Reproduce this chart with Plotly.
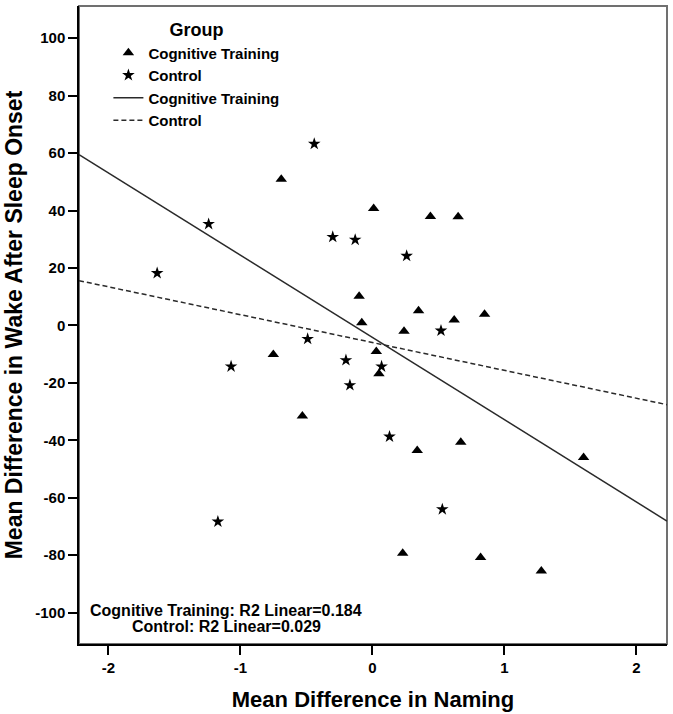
import numpy as np
import plotly.graph_objects as go

# ---- data ----
ct_x = [-0.69, 0.01, 0.44, 0.65, -0.10, -0.08, 0.35, 0.62, 0.85, 0.24,
        0.03, 0.05, -0.75, -0.53, 0.34, 0.67, 1.60, 0.23, 0.82, 1.28]
ct_y = [50.9, 40.7, 37.9, 37.8, 10.2, 0.9, 5.1, 1.9, 3.9, -2.0,
        -9.1, -16.8, -10.1, -31.5, -43.5, -40.7, -46.0, -79.3, -80.8, -85.5]

ctrl_x = [-0.44, -1.24, -0.30, -0.13, 0.26, -1.63, 0.52, -0.49, -0.20, 0.07,
          -1.07, -0.17, 0.13, 0.53, -1.17]
ctrl_y = [63.2, 35.3, 30.8, 29.8, 24.2, 18.2, -1.8, -4.7, -12.1, -14.3,
          -14.3, -20.8, -38.7, -64.0, -68.3]

group_names = ["Cognitive Training", "Control"]
r2_labels = ["Cognitive Training: R2 Linear=0.184", "Control: R2 Linear=0.029"]

x_ticks = [-2, -1, 0, 1, 2]
y_ticks = [-100, -80, -60, -40, -20, 0, 20, 40, 60, 80, 100]
x_range = [-2.222, 2.232]
y_range = [-110.9, 111.2]

FONT = "Liberation Sans, Arial, Helvetica, sans-serif"

# regression fits computed from the data
ct_fit = np.polyfit(ct_x, ct_y, 1)
ctrl_fit = np.polyfit(ctrl_x, ctrl_y, 1)
line_x = np.array(x_range)

fig = go.Figure()
fig.add_trace(go.Scatter(
    x=ct_x, y=ct_y, mode="markers", name=group_names[0],
    marker=dict(symbol="triangle-up", size=10, color="black"),
))
fig.add_trace(go.Scatter(
    x=ctrl_x, y=ctrl_y, mode="markers", name=group_names[1],
    marker=dict(symbol="star", size=9.5, color="black"),
))
fig.add_trace(go.Scatter(
    x=line_x, y=np.polyval(ct_fit, line_x), mode="lines", name=group_names[0],
    line=dict(color="#2a2a2a", width=1.5),
))
fig.add_trace(go.Scatter(
    x=line_x, y=np.polyval(ctrl_fit, line_x), mode="lines", name=group_names[1],
    line=dict(color="#2a2a2a", width=1.5, dash="5px,3px"),
))

axis_common = dict(
    showgrid=False, zeroline=False, showline=True, linecolor="black",
    linewidth=1.5, ticks="outside", ticklen=9, tickwidth=1.5,
    tickcolor="black", automargin=False,
    tickfont=dict(family=FONT, size=15, color="black", weight="bold"),
)

fig.update_layout(
    width=673, height=714,
    margin=dict(l=79, r=6, t=5.5, b=70),
    paper_bgcolor="white", plot_bgcolor="white",
    font=dict(family=FONT, color="black"),
    xaxis=dict(
        range=x_range, tickvals=x_ticks, ticktext=[str(v) for v in x_ticks],
        **axis_common,
        title=dict(text="Mean Difference in Naming", standoff=17,
                   font=dict(family=FONT, size=22, color="black", weight="bold")),
    ),
    yaxis=dict(
        range=y_range, tickvals=y_ticks, ticktext=[str(v) for v in y_ticks],
        **axis_common,
        title=dict(text="Mean Difference in Wake After Sleep Onset", standoff=6,
                   font=dict(family=FONT, size=23, color="black", weight="bold")),
    ),
    legend=dict(
        x=0.05, y=0.989, xanchor="left", yanchor="top",
        bgcolor="rgba(0,0,0,0)",
        font=dict(family=FONT, size=15, color="black", weight="bold"),
        title=dict(text="Group", side="top center",
                   font=dict(family=FONT, size=18, color="black", weight="bold")),
        itemwidth=30,
    ),
    showlegend=True,
)

# outer frame (top/right)
fig.add_shape(type="rect", xref="paper", yref="paper", x0=0, x1=1, y0=0, y1=1,
              line=dict(color="#707070", width=2), layer="below")

# R2 labels
for txt, yy in zip(r2_labels, [0.052, 0.028]):
    fig.add_annotation(
        text=txt, xref="paper", yref="paper", x=0.25, y=yy,
        xanchor="center", yanchor="middle", showarrow=False,
        font=dict(family=FONT, size=16, color="black", weight="bold"),
    )

fig.write_html("out.html",
               config={"displayModeBar": False},
               post_script="document.body.style.margin='0';document.body.style.overflow='hidden';")
